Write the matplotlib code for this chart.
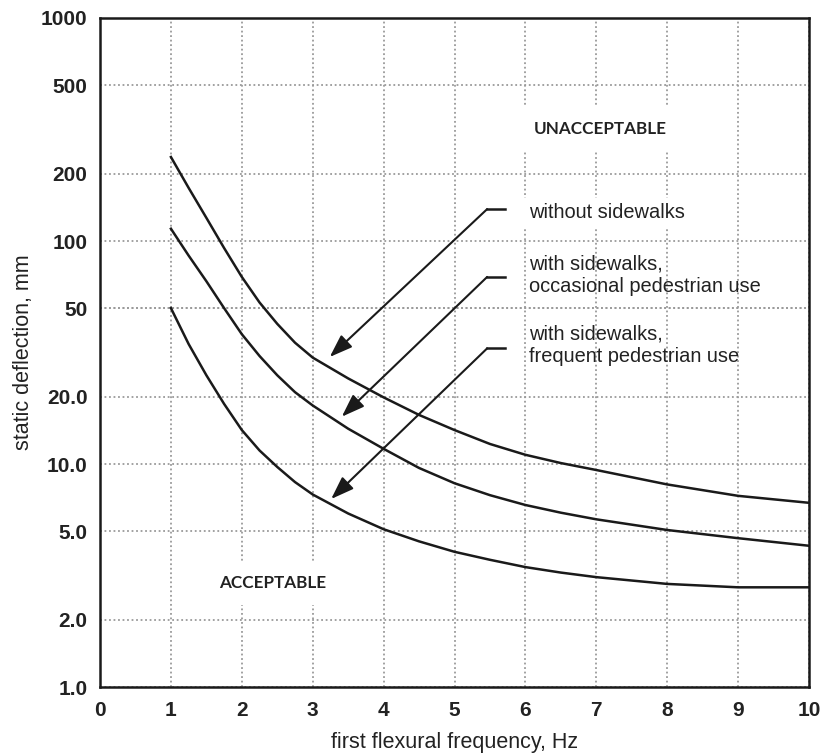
import matplotlib
matplotlib.use("Agg")
import matplotlib.pyplot as plt
from matplotlib.patches import Rectangle

# frequency points (Hz)
freq = [1, 1.25, 1.5, 1.75, 2, 2.25, 2.5, 2.75, 3, 3.5, 4, 4.5, 5, 5.5, 6, 6.5, 7, 8, 9, 10]

# static deflection limits (mm)
no_sidewalk = [238, 173, 127, 93, 69, 53, 42.5, 35, 30, 24.2, 19.9, 16.6, 14.2, 12.3, 11.0,
               10.1, 9.4, 8.1, 7.2, 6.7]
occasional = [113.5, 86, 66, 50, 38.2, 30.5, 25, 21, 18.3, 14.4, 11.7, 9.6, 8.2, 7.25, 6.55,
              6.05, 5.65, 5.06, 4.65, 4.3]
frequent = [50, 34.5, 25.0, 18.6, 14.2, 11.5, 9.7, 8.3, 7.3, 6.0, 5.1, 4.5, 4.04, 3.72, 3.45,
            3.26, 3.11, 2.9, 2.8, 2.8]

xticks = list(range(0, 11))
yticks = [1, 2, 5, 10, 20, 50, 100, 200, 500, 1000]
ylabels = ["1.0", "2.0", "5.0", "10.0", "20.0", "50", "100", "200", "500", "1000"]

plt.rcParams["font.family"] = ["Liberation Sans", "DejaVu Sans"]

fig = plt.figure(figsize=(8.22, 7.53), dpi=100)
ax = fig.add_axes([0.1217, 0.0876, 0.8625, 0.8885])

ax.set_yscale("log")
ax.set_xlim(0, 10)
ax.set_ylim(1, 1000)
ax.set_xticks(xticks)
ax.set_xticklabels([str(t) for t in xticks], fontweight="bold", fontsize=15, color="#222222")
ax.set_yticks(yticks)
ax.set_yticklabels(ylabels, fontweight="bold", fontsize=15, color="#222222")
ax.minorticks_off()
ax.tick_params(axis="y", length=0, pad=9)
ax.tick_params(axis="x", length=0, pad=10)

grid_style = dict(color="#9a9a9a", linestyle=(0, (1, 1.5)), linewidth=1.3)
ax.grid(True, zorder=0, **grid_style)
for s in ax.spines.values():
    s.set_linewidth(1.8)
    s.set_color("#1a1a1a")
    s.set_zorder(5)

# white block behind the labels (cuts the grid)
ax.add_patch(Rectangle((5.72, 23.8), 4.22, 106 - 23.8, facecolor="white",
                       edgecolor="none", zorder=1))
ax.axhline(50, zorder=1.5, **grid_style)

ax.plot(freq, no_sidewalk, color="#1a1a1a", lw=1.8, zorder=3)
ax.plot(freq, occasional, color="#1a1a1a", lw=1.8, zorder=3)
ax.plot(freq, frequent, color="#1a1a1a", lw=1.8, zorder=3)

box = dict(facecolor="white", edgecolor="none", pad=4)
txt_kw = dict(fontsize=14.4, color="#222222", va="center", ha="left", zorder=4)
ax.text(6.05, 134, "without sidewalks", bbox=box, **txt_kw)
ax.text(6.05, 70.5, "with sidewalks,\noccasional pedestrian use", linespacing=1.22, **txt_kw)
ax.text(6.05, 34.2, "with sidewalks,\nfrequent pedestrian use", linespacing=1.22, **txt_kw)

zone_kw = dict(family=["Lato", "DejaVu Sans"], fontweight="bold", fontsize=12.3,
               color="#222222", ha="center", va="center", zorder=4,
               bbox=dict(facecolor="white", edgecolor="none", pad=10))
ax.text(7.05, 318, "UNACCEPTABLE", **zone_kw)
ax.text(2.43, 2.93, "ACCEPTABLE", **zone_kw)

# leader arrows
arrows = [((5.46, 139), (3.24, 30.2)), ((5.46, 69), (3.41, 16.3)), ((5.46, 33), (3.26, 6.97))]
for (sx, sy), tip in arrows:
    ax.plot([sx, 5.71], [sy, sy], color="#1a1a1a", lw=1.8, zorder=4)
    ax.annotate("", xy=tip, xytext=(sx, sy),
                arrowprops=dict(arrowstyle="-|>,head_length=0.7,head_width=0.25",
                                mutation_scale=20, color="#1a1a1a", lw=1.5,
                                shrinkA=0, shrinkB=0),
                zorder=4)

ax.set_xlabel("first flexural frequency, Hz", fontsize=15.5, color="#222222", labelpad=9)
ax.set_ylabel("static deflection, mm", fontsize=15.5, color="#222222", labelpad=5)

fig.savefig("out.png", dpi=100)
